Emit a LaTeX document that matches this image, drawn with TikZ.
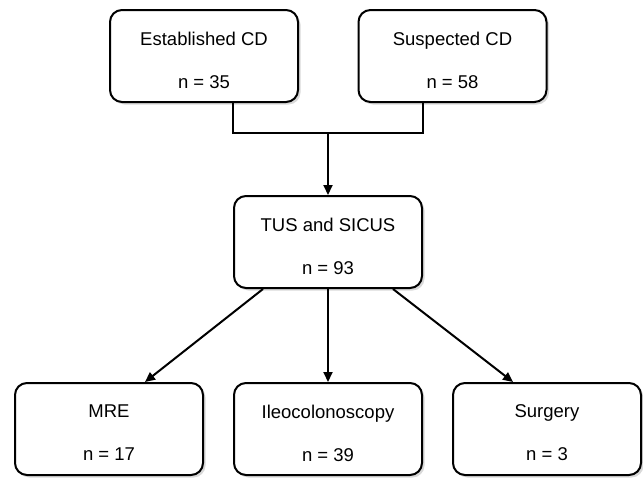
\documentclass[tikz,border=0pt]{standalone}
\usepackage{fontspec}
\setmainfont{Liberation Sans}
\usetikzlibrary{arrows.meta,shadows,calc}
\begin{document}
\begin{tikzpicture}[x=1pt,y=-1pt,
  box/.style={draw=black,line width=2pt,rounded corners=12pt,fill=white,
    minimum width=188pt,minimum height=92pt,inner sep=0pt,
    drop shadow={shadow xshift=2.5pt,shadow yshift=-2.5pt,opacity=0.3,fill=gray}},
  lbl/.style={align=center,inner sep=0pt,font=\fontsize{18.5}{43}\selectfont},
  conn/.style={line width=2pt},
  arr/.style={line width=2pt,-{Triangle[length=10pt,width=9pt]}}]
\useasboundingbox (0,0) rectangle (643,477);
% boxes
\node[box] (est) at (204,56) {};
\node[box] (sus) at (452.5,56) {};
\node[box] (tus) at (328,242) {};
\node[box] (mre) at (109,429) {};
\node[box] (ileo) at (328,429) {};
\node[box] (surg) at (547,429) {};
% labels
\node[lbl] (estt) at ($(est.center)+(0,4)$) {Established CD\\n = 35};
\node[lbl] (sust) at ($(sus.center)+(0,4)$) {Suspected CD\\n = 58};
\node[lbl] (tust) at ($(tus.center)+(0,4)$) {TUS and SICUS\\n = 93};
\node[lbl] (mret) at ($(mre.center)+(0,4)$) {MRE\\n = 17};
\node[lbl] (ileot) at ($(ileo.center)+(0,4)$) {Ileocolonoscopy\\n = 39};
\node[lbl] (surgt) at ($(surg.center)+(0,4)$) {Surgery\\n = 3};
% connectors
\coordinate (j) at (328,133);
\draw[conn] ($(est.south)+(29,0)$) |- (j) -| ($(sus.south)+(-29.5,0)$);
\draw[arr] (j) -- (tus.north);
\draw[arr] ($(tus.south)+(-65,0)$) -- ($(mre.north)+(36,0)$);
\draw[arr] (tus.south) -- (ileo.north);
\draw[arr] ($(tus.south)+(65,0)$) -- ($(surg.north)+(-34,0)$);
\end{tikzpicture}
\end{document}
